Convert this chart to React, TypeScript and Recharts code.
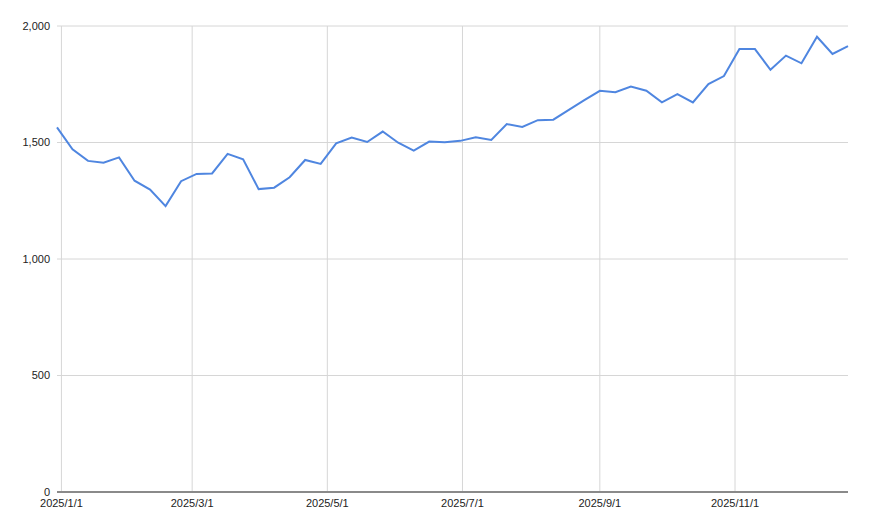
import { LineChart, Line, XAxis, YAxis, CartesianGrid, ReferenceLine } from "recharts";

// weekly dates (Mondays)
const dates = [
  "2024-12-30", "2025-01-06", "2025-01-13", "2025-01-20", "2025-01-27",
  "2025-02-03", "2025-02-10", "2025-02-17", "2025-02-24", "2025-03-03",
  "2025-03-10", "2025-03-17", "2025-03-24", "2025-03-31", "2025-04-07",
  "2025-04-14", "2025-04-21", "2025-04-28", "2025-05-05", "2025-05-12",
  "2025-05-19", "2025-05-26", "2025-06-02", "2025-06-09", "2025-06-16",
  "2025-06-23", "2025-06-30", "2025-07-07", "2025-07-14", "2025-07-21",
  "2025-07-28", "2025-08-04", "2025-08-11", "2025-08-18", "2025-08-25",
  "2025-09-01", "2025-09-08", "2025-09-15", "2025-09-22", "2025-09-29",
  "2025-10-06", "2025-10-13", "2025-10-20", "2025-10-27", "2025-11-03",
  "2025-11-10", "2025-11-17", "2025-11-24", "2025-12-01", "2025-12-08",
  "2025-12-15", "2025-12-22",
];

const values = [
  1565, 1471, 1421, 1413, 1436, 1336, 1298, 1227, 1334, 1365,
  1367, 1451, 1428, 1300, 1306, 1351, 1425, 1408, 1496, 1521,
  1502, 1547, 1499, 1465, 1504, 1501, 1507, 1522, 1511, 1579,
  1567, 1596, 1598, 1640, 1682, 1722, 1716, 1740, 1722, 1672,
  1708, 1672, 1751, 1785, 1901, 1901, 1812, 1873, 1840, 1954,
  1880, 1914,
];

const xTickDates = ["2025-01-01", "2025-03-01", "2025-05-01", "2025-07-01", "2025-09-01", "2025-11-01"];
const xTickLabels = ["2025/1/1", "2025/3/1", "2025/5/1", "2025/7/1", "2025/9/1", "2025/11/1"];
const yTicks = [0, 500, 1000, 1500, 2000];

const toTime = (s: string) => Date.parse(s + "T00:00:00Z");

const data = dates.map((d, i) => ({ t: toTime(d), value: values[i] }));
const xTicks = xTickDates.map(toTime);

const fmtX = (t: number) => {
  const i = xTicks.indexOf(t);
  return i >= 0 ? xTickLabels[i] : "";
};

const tickStyle = { fontSize: 11, fill: "#222", fontFamily: "Arial, 'Liberation Sans', sans-serif" };

export default function App() {
  return (
    <div style={{ position: "absolute", left: 0, top: 0 }}>
      <LineChart width={870} height={522} data={data} margin={{ top: 26, right: 22, left: 0, bottom: 0 }}>
        <CartesianGrid stroke="#d6d6d6" vertical={false} />
        {xTicks.map((t) => (
          <ReferenceLine key={t} x={t} stroke="#d6d6d6" />
        ))}
        <XAxis
          dataKey="t"
          type="number"
          scale="time"
          domain={["dataMin", "dataMax"]}
          ticks={xTicks}
          tickFormatter={fmtX}
          height={30}
          tickSize={0}
          tickMargin={7}
          axisLine={{ stroke: "#8a8a8a", strokeWidth: 2 }}
          tick={tickStyle}
          interval={0}
        />
        <YAxis
          domain={[0, 2000]}
          ticks={yTicks}
          width={57}
          axisLine={false}
          tickSize={0}
          tickMargin={7}
          tickFormatter={(v: number) => v.toLocaleString("en-US")}
          tick={tickStyle}
        />
        <Line
          type="linear"
          dataKey="value"
          stroke="#4f86e0"
          strokeWidth={2}
          dot={false}
          isAnimationActive={false}
        />
      </LineChart>
    </div>
  );
}
